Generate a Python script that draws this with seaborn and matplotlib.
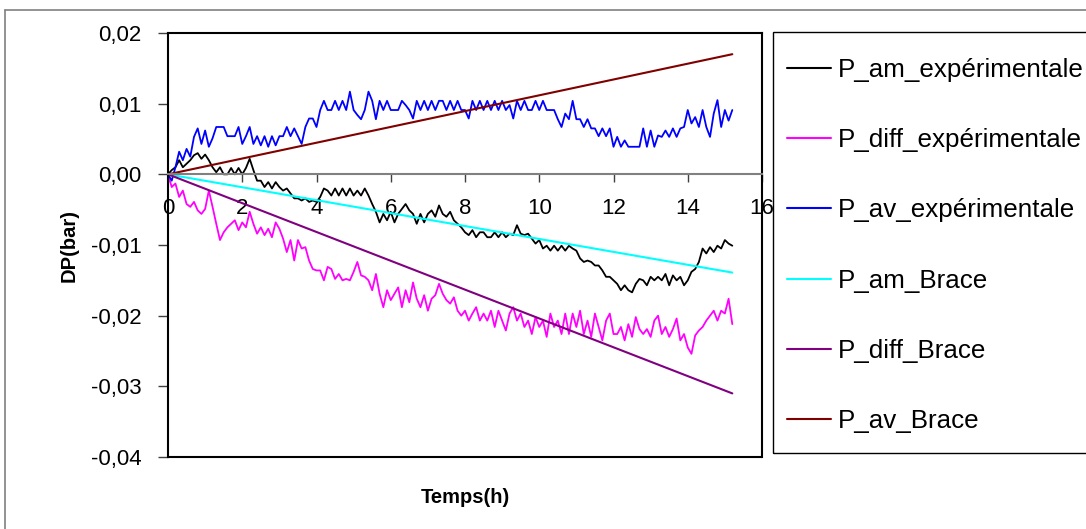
import matplotlib
matplotlib.use("Agg")
import matplotlib.pyplot as plt
import seaborn as sns
import pandas as pd
from matplotlib.ticker import FuncFormatter, MultipleLocator
from matplotlib.lines import Line2D
from matplotlib.patches import Rectangle

# ---------------- data ----------------
time_h = [
    0.0, 0.1, 0.2, 0.3, 0.4, 0.5, 0.6, 0.7, 0.8, 0.9,
    1.0, 1.1, 1.2, 1.3, 1.4, 1.5, 1.6, 1.7, 1.8, 1.9,
    2.0, 2.1, 2.2, 2.3, 2.4, 2.5, 2.6, 2.7, 2.8, 2.9,
    3.0, 3.1, 3.2, 3.3, 3.4, 3.5, 3.6, 3.7, 3.8, 3.9,
    4.0, 4.1, 4.2, 4.3, 4.4, 4.5, 4.6, 4.7, 4.8, 4.9,
    5.0, 5.1, 5.2, 5.3, 5.4, 5.5, 5.6, 5.7, 5.8, 5.9,
    6.0, 6.1, 6.2, 6.3, 6.4, 6.5, 6.6, 6.7, 6.8, 6.9,
    7.0, 7.1, 7.2, 7.3, 7.4, 7.5, 7.6, 7.7, 7.8, 7.9,
    8.0, 8.1, 8.2, 8.3, 8.4, 8.5, 8.6, 8.7, 8.8, 8.9,
    9.0, 9.1, 9.2, 9.3, 9.4, 9.5, 9.6, 9.7, 9.8, 9.9,
    10.0, 10.1, 10.2, 10.3, 10.4, 10.5, 10.6, 10.7, 10.8, 10.9,
    11.0, 11.1, 11.2, 11.3, 11.4, 11.5, 11.6, 11.7, 11.8, 11.9,
    12.0, 12.1, 12.2, 12.3, 12.4, 12.5, 12.6, 12.7, 12.8, 12.9,
    13.0, 13.1, 13.2, 13.3, 13.4, 13.5, 13.6, 13.7, 13.8, 13.9,
    14.0, 14.1, 14.2, 14.3, 14.4, 14.5, 14.6, 14.7, 14.8, 14.9,
    15.0, 15.1, 15.2,
]

# values in mbar
p_am_exp_mbar = [
    0, 0.6, 1.0, 2.0, 1.0, 1.5, 2.0, 2.7, 3.0, 2.2,
    2.8, 2.0, 1.0, 0.3, 1.0, 0, 0, 0.9, 0, 0.9,
    0, 0.9, 2.2, 0.6, -0.9, -0.9, -1.8, -1.1, -2.0, -1.1,
    -1.8, -2.3, -2.0, -2.7, -3.4, -3.4, -3.7, -3.4, -3.9, -3.7,
    -3.9, -3.2, -2.0, -2.3, -3.0, -2.0, -3.0, -2.0, -3.0, -2.0,
    -3.0, -2.3, -3.0, -2.0, -3.0, -4.2, -5.3, -6.8, -5.6, -6.5,
    -5.3, -6.8, -5.6, -4.9, -4.2, -5.1, -5.6, -7.0, -5.6, -6.8,
    -5.6, -5.1, -6.0, -4.4, -5.6, -6.0, -5.3, -6.5, -7.0, -7.5,
    -8.2, -8.6, -7.9, -8.9, -8.2, -8.2, -8.9, -8.9, -8.2, -8.9,
    -8.2, -8.9, -8.4, -8.6, -7.2, -8.4, -8.6, -8.4, -9.1, -9.8,
    -9.3, -10.5, -10.1, -10.8, -10.1, -10.8, -10.1, -10.8, -10.1, -10.5,
    -10.8, -11.9, -12.4, -12.2, -12.4, -12.9, -12.9, -13.6, -14.5, -14.5,
    -15.0, -15.5, -16.4, -15.7, -16.4, -16.7, -15.5, -14.8, -15.0, -15.7,
    -14.5, -15.0, -14.5, -15.0, -14.1, -15.7, -14.3, -15.0, -14.5, -15.7,
    -15.0, -13.8, -13.4, -12.4, -10.5, -11.2, -10.3, -11.0, -10.1, -10.5,
    -9.3, -9.8, -10.1,
]

p_diff_exp_mbar = [
    0, -1.8, -1.3, -3.2, -2.3, -4.2, -4.6, -3.9, -5.1, -5.6,
    -4.9, -2.3, -4.6, -7.0, -9.3, -8.2, -7.5, -7.0, -6.5, -7.9,
    -6.8, -7.5, -5.3, -7.0, -8.4, -7.5, -8.6, -7.7, -8.9, -6.8,
    -7.7, -9.1, -11.0, -9.3, -12.2, -9.3, -10.5, -10.3, -12.2, -13.4,
    -13.6, -13.6, -15.0, -13.1, -13.4, -14.8, -14.1, -15.0, -14.8, -15.0,
    -13.8, -12.4, -14.3, -14.5, -15.0, -16.4, -14.1, -16.9, -18.8, -16.4,
    -17.8, -16.9, -16.0, -18.8, -16.4, -18.1, -15.3, -17.6, -18.8, -17.1,
    -19.3, -17.6, -17.1, -15.5, -16.9, -17.8, -18.3, -17.4, -19.3, -20.0,
    -19.3, -20.7, -19.7, -18.8, -20.7, -19.7, -20.7, -19.3, -21.6, -19.3,
    -20.7, -22.1, -19.7, -18.8, -20.7, -19.7, -21.6, -20.7, -22.6, -20.2,
    -21.6, -20.7, -23.0, -19.7, -21.6, -20.7, -22.6, -19.7, -22.6, -19.7,
    -21.6, -19.3, -22.6, -20.7, -23.0, -19.7, -21.6, -23.5, -20.7, -19.7,
    -22.6, -22.6, -21.6, -23.5, -21.2, -23.0, -20.2, -21.9, -22.6, -21.9,
    -23.0, -20.7, -20.0, -22.6, -21.6, -23.0, -21.9, -20.4, -23.5, -22.6,
    -24.5, -25.4, -22.8, -22.1, -21.6, -20.7, -20.0, -19.3, -20.7, -19.3,
    -19.7, -17.6, -21.2,
]

p_av_exp_mbar = [
    0, -0.9, 1.0, 3.2, 2.0, 3.6, 2.5, 5.3, 6.5, 4.3,
    6.2, 3.9, 5.1, 6.7, 6.7, 6.7, 5.4, 5.4, 5.4, 6.7,
    4.3, 5.4, 6.7, 4.3, 5.4, 4.1, 5.4, 3.9, 5.4, 4.1,
    5.4, 5.4, 6.7, 5.4, 6.5, 5.4, 4.3, 6.7, 7.9, 7.9,
    6.7, 9.1, 10.4, 9.1, 9.1, 10.4, 9.1, 10.4, 9.1, 11.7,
    9.1, 8.4, 7.8, 9.1, 11.7, 10.4, 7.8, 10.4, 9.1, 10.4,
    9.1, 9.1, 9.1, 10.4, 9.8, 9.1, 7.9, 10.4, 9.1, 10.4,
    9.1, 10.4, 9.1, 10.4, 10.4, 9.1, 10.4, 9.1, 10.4, 9.1,
    9.1, 7.9, 10.4, 9.1, 10.4, 9.1, 10.4, 9.1, 10.4, 9.1,
    10.4, 9.1, 9.8, 7.9, 10.4, 9.1, 10.4, 9.1, 9.1, 10.4,
    9.1, 10.4, 9.1, 9.1, 9.1, 7.8, 6.7, 8.6, 7.8, 10.4,
    7.8, 7.8, 6.7, 7.8, 6.5, 6.5, 5.4, 6.5, 5.4, 6.5,
    3.9, 5.3, 3.9, 4.8, 3.9, 3.9, 3.9, 3.9, 6.5, 3.9,
    6.2, 3.9, 5.5, 5.3, 6.2, 5.3, 6.5, 5.3, 6.5, 6.7,
    9.1, 7.2, 8.1, 6.7, 9.1, 6.7, 5.3, 8.6, 10.5, 6.7,
    9.1, 7.6, 9.1,
]

brace_time_h = [0.0, 15.2]
p_am_brace = [0.0, -0.0139]
p_diff_brace = [0.0, -0.0310]
p_av_brace = [0.0, 0.0170]

series_names = ["P_am_expérimentale", "P_diff_expérimentale", "P_av_expérimentale",
                "P_am_Brace", "P_diff_Brace", "P_av_Brace"]
series_colors = ["#000000", "#FF00FF", "#0000FF", "#00FFFF", "#800080", "#800000"]

# ---------------- build table ----------------
frames = []
for name, vals in zip(series_names[:3], [p_am_exp_mbar, p_diff_exp_mbar, p_av_exp_mbar]):
    frames.append(pd.DataFrame({"Temps": time_h, "DP": [v / 1000.0 for v in vals], "serie": name}))
for name, vals in zip(series_names[3:], [p_am_brace, p_diff_brace, p_av_brace]):
    frames.append(pd.DataFrame({"Temps": brace_time_h, "DP": vals, "serie": name}))
df = pd.concat(frames, ignore_index=True)

# ---------------- style ----------------
sns.set_style("white")
plt.rcParams["font.family"] = ["Liberation Sans", "DejaVu Sans"]
plt.rcParams["axes.unicode_minus"] = False
plt.rcParams["text.color"] = "black"
plt.rcParams["axes.labelcolor"] = "black"
plt.rcParams["xtick.color"] = "black"
plt.rcParams["ytick.color"] = "black"

W, H = 1086, 529
fig = plt.figure(figsize=(W / 100, H / 100), dpi=100)
fig.patch.set_facecolor("white")
L, R, T, B = 168, 762, 33, 457
ax = fig.add_axes([L / W, 1 - B / H, (R - L) / W, (B - T) / H])

for name, col in zip(series_names, series_colors):
    sub = df[df["serie"] == name]
    lw = 1.3 if "exp" in name else 1.5
    sns.lineplot(data=sub, x="Temps", y="DP", color=col, label=name, ax=ax,
                 estimator=None, sort=False, linewidth=lw)

ax.set_xlim(0, 16)
ax.set_ylim(-0.04, 0.02)
ax.xaxis.set_major_locator(MultipleLocator(2))
ax.yaxis.set_major_locator(MultipleLocator(0.01))
ax.yaxis.set_major_formatter(FuncFormatter(lambda v, p: f"{v:.2f}".replace(".", ",").replace("-0,00", "0,00")))
ax.xaxis.set_major_formatter(FuncFormatter(lambda v, p: f"{v:.0f}"))

# x axis crosses at y = 0
ax.spines["bottom"].set_position(("data", 0))
ax.spines["bottom"].set_color("#808080")
ax.spines["bottom"].set_linewidth(1.5)
for s in ["left", "top", "right"]:
    ax.spines[s].set_color("black")
    ax.spines[s].set_linewidth(1.5)
ax.plot([0, 1], [0, 0], transform=ax.transAxes, color="black", lw=1.5, clip_on=False)

ax.tick_params(axis="x", direction="out", length=6, width=1, color="#404040",
               labelsize=16, pad=11, bottom=True, labelcolor="black")
ax.tick_params(axis="y", direction="out", length=7, width=1, color="#404040",
               labelsize=16, pad=12, left=True, labelcolor="black")

ax.set_xlabel("Temps(h)", fontsize=14.5, fontweight="bold", color="black")
ax.set_ylabel("DP(bar)", fontsize=14.5, fontweight="bold", color="black")
ax.xaxis.set_label_coords(0.5, -0.072)
ax.yaxis.set_label_coords((79 - L) / (R - L), 0.5)

handles, labels = ax.get_legend_handles_labels()
ax.get_legend().remove()
leg = fig.legend(handles, labels, loc="upper left",
                 bbox_to_anchor=(787 / W, 1 - 58 / H), borderaxespad=0, borderpad=0,
                 fontsize=18.7, frameon=False,
                 handlelength=1.7, handletextpad=0.27, labelspacing=1.78)
for lh in leg.get_lines():
    lh.set_linewidth(1.5)

# legend frame (drawn separately to match the reference padding)
fig.add_artist(Rectangle((773 / W, 1 - 453 / H), (1095 - 773) / W, (453 - 32) / H,
                         transform=fig.transFigure, fill=False, edgecolor="black", lw=1.0))

# outer chart frame
fig.add_artist(Line2D([5 / W, 5 / W], [0, 1 - 10 / H], color="#808080", lw=1.2))
fig.add_artist(Line2D([5 / W, 1], [1 - 10 / H, 1 - 10 / H], color="#808080", lw=1.2))

fig.savefig("out.png", dpi=100)
